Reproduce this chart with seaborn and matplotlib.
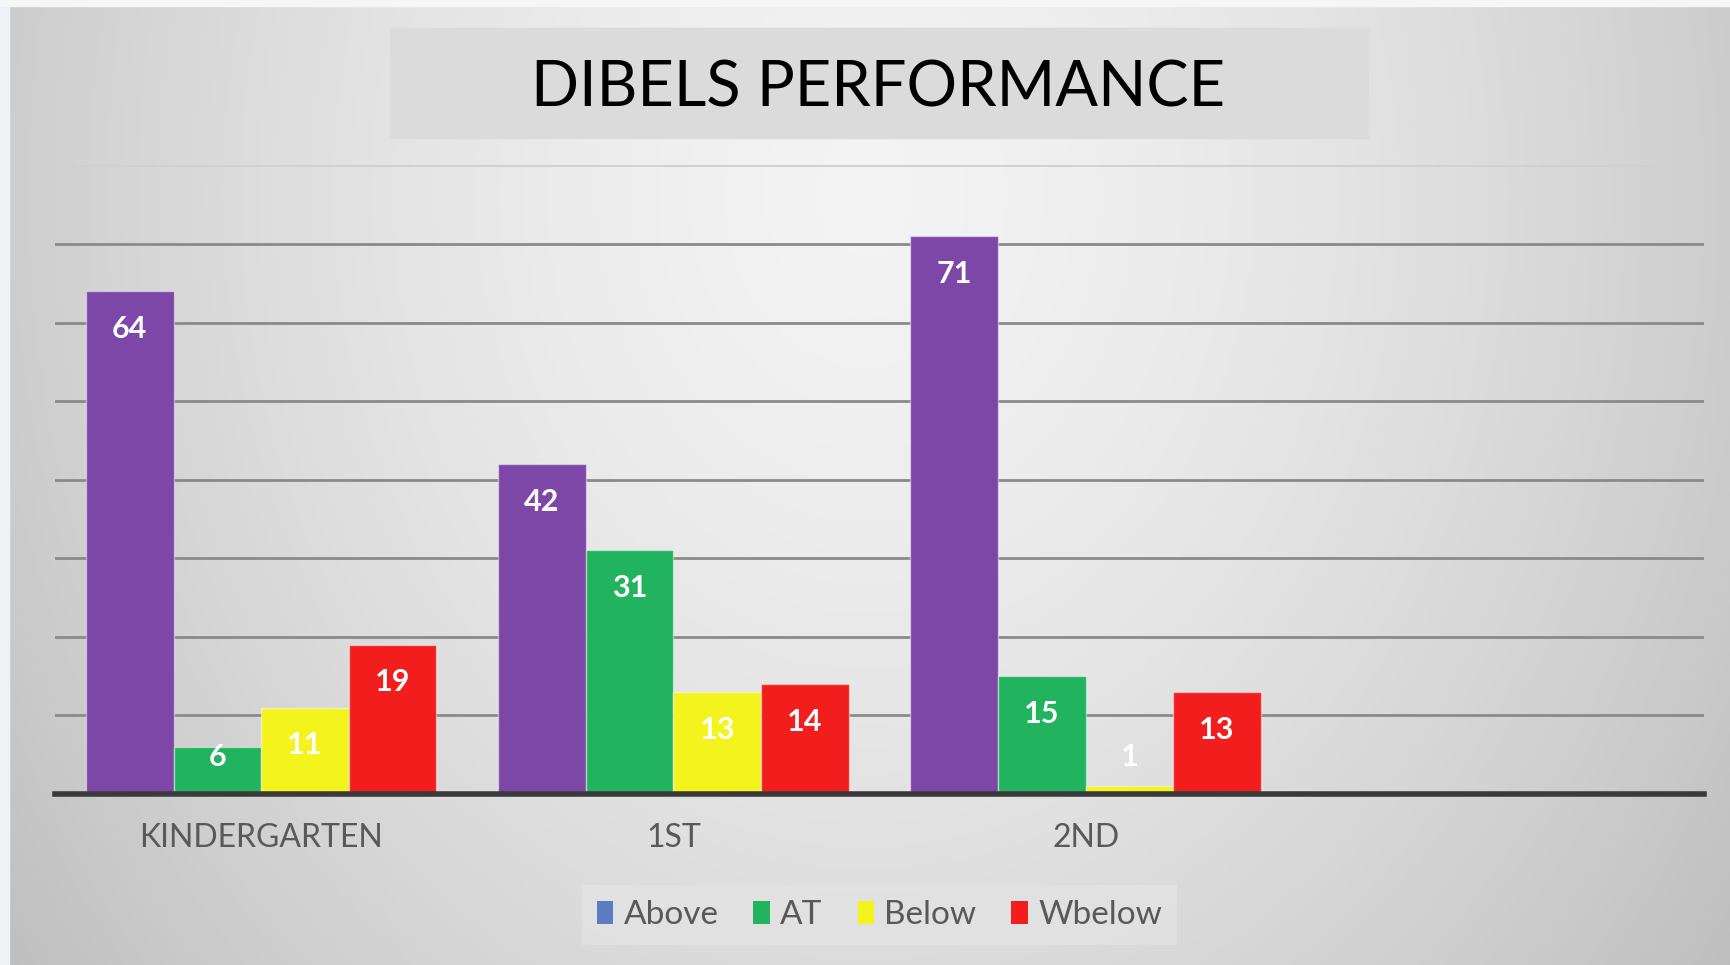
import numpy as np
import pandas as pd
import seaborn as sns
import matplotlib.pyplot as plt
from matplotlib.patches import Patch, Rectangle

# ================================= #
# DATA
# ================================= #
grades = ["KINDERGARTEN", "1ST", "2ND"]
levels = ["Above", "AT", "Below", "Wbelow"]
above = [64, 42, 71]
at = [6, 31, 15]
below = [11, 13, 1]
wbelow = [19, 14, 13]

bar_colors = ["#7D47A8", "#22B35E", "#F3F31E", "#F21D1D"]
legend_colors = ["#5B7CC2", "#22B35E", "#F3F31E", "#F21D1D"]

df = pd.DataFrame({
    "grade": grades * len(levels),
    "level": np.repeat(levels, len(grades)),
    "score": above + at + below + wbelow,
})

sns.set_theme(style="white")
plt.rcParams['font.family'] = ['Lato', 'DejaVu Sans']

fig = plt.figure(figsize=(17.31, 9.65), dpi=100)

# background: soft radial grey gradient like the slide
bg = fig.add_axes([0, 0, 1, 1], zorder=-10)
yy, xx = np.mgrid[0:1:300j, 0:1:500j]
r = np.sqrt(((xx - 0.5) / 0.5) ** 2 + ((yy - 0.2) / 1.1) ** 2)
v = np.clip(0.955 - 0.15 * r ** 1.5, 0, 1)
bg.imshow(np.dstack([v, v, v]), aspect='auto', extent=[0, 1, 0, 1])
bg.set_axis_off()
fig.patches.append(Rectangle((0, 0), 0.005, 1, transform=fig.transFigure,
                             color="#eef2f6", zorder=-5))
fig.patches.append(Rectangle((0, 0.994), 1, 0.006, transform=fig.transFigure,
                             color="#f6f6f6", zorder=-5))

# title box
fig.patches.append(Rectangle((0.2253, 0.857), 0.565, 0.114, transform=fig.transFigure,
                             color="#dbdbdb", zorder=1))
fig.text(0.5075, 0.908, "DIBELS PERFORMANCE", ha="center", va="center",
         fontsize=45.5, color="black", zorder=2)

# ================================= #
# BARS
# ================================= #
ax = fig.add_axes([0.0318, 0.1772, 0.9526, 0.6513])
ax.patch.set_alpha(0)
sns.barplot(data=df, x="grade", y="score", hue="level",
            order=grades + [""], hue_order=levels, palette=bar_colors,
            width=0.85, saturation=1, legend=False, ax=ax,
            edgecolor=(1, 1, 1, 0.45), linewidth=1)

ax.set_xlim(-0.5, 3.5)
ax.set_ylim(0, 80)
ax.set_yticks(range(0, 90, 10))
ax.set_yticklabels([])
ax.yaxis.grid(True, color="#8a8a8a", lw=2)
ax.get_ygridlines()[-1].set_color("#d0d0d0")
ax.set_axisbelow(True)
ax.set_xlabel("")
ax.set_ylabel("")
for s in ["left", "right", "top"]:
    ax.spines[s].set_visible(False)
ax.spines["bottom"].set_color("#3a3a3a")
ax.spines["bottom"].set_linewidth(4)
ax.tick_params(axis="x", length=0, pad=21, labelsize=23, labelcolor="#595959")
ax.tick_params(axis="y", length=0)

# value labels inside the bar tops
for cont in ax.containers:
    for bar in cont:
        h = bar.get_height()
        if np.isnan(h) or h == 0:
            continue
        ax.text(bar.get_x() + bar.get_width() / 2, max(h - 4.8, 4.7), f"{h:.0f}",
                ha="center", va="center", color="white", fontsize=22,
                fontweight="bold", zorder=5)

# legend (the original shows a blue key for Above)
handles = [Patch(facecolor=c, edgecolor="none") for c in legend_colors]
leg = fig.legend(handles, levels, loc="center", bbox_to_anchor=(0.508, 0.0515),
                 ncol=4, fontsize=24, frameon=True, handlelength=0.5,
                 handleheight=0.7, handletextpad=0.3, columnspacing=1.05,
                 borderpad=0.45, borderaxespad=0, fancybox=False)
leg.get_frame().set_facecolor("#e3e3e3")
leg.get_frame().set_edgecolor("none")
for t in leg.get_texts():
    t.set_color("#595959")

fig.savefig("out.png", dpi=100)
